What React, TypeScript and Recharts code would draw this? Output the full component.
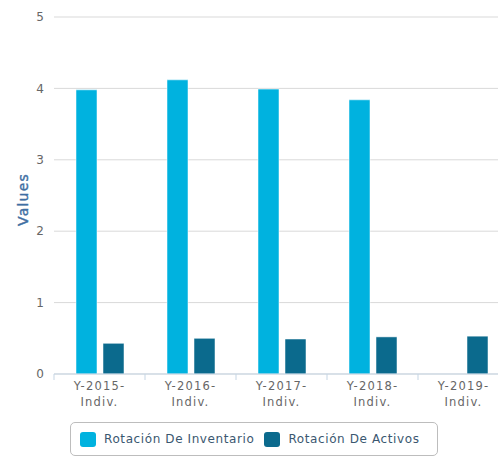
import React from "react";
import { BarChart, Bar, XAxis, YAxis, CartesianGrid, Legend } from "recharts";

const categories = ["Y-2015-Indiv.", "Y-2016-Indiv.", "Y-2017-Indiv.", "Y-2018-Indiv.", "Y-2019-Indiv."];
const inventario = [3.98, 4.12, 3.99, 3.84, null];
const activos = [0.43, 0.5, 0.49, 0.52, 0.53];
const yTicks = [0, 1, 2, 3, 4, 5];

const LIGHT = "#00B2DF";
const DARK = "#0B6A8D";
const FONT = "'DejaVu Sans', Verdana, sans-serif";
const BAND = 91;

const data = categories.map((c, i) => ({
  cat: c,
  inv: inventario[i],
  act: activos[i],
}));

function XTick(props: any) {
  const { x, y, payload } = props;
  const s = String(payload.value);
  const cut = s.indexOf("Indiv.");
  const l1 = s.slice(0, cut);
  const l2 = s.slice(cut);
  return (
    <g>
      <line x1={x - BAND / 2} x2={x - BAND / 2} y1={y - 8} y2={y - 2} stroke="#c5d5e4" />
      <text x={x} y={y + 8} textAnchor="middle" fill="#666" fontSize={11.5} letterSpacing={1.2} fontFamily={FONT}>
        {l1}
      </text>
      <text x={x} y={y + 24} textAnchor="middle" fill="#666" fontSize={11.5} letterSpacing={1.2} fontFamily={FONT}>
        {l2}
      </text>
    </g>
  );
}

function YLabel(props: any) {
  const { viewBox } = props;
  const cx = viewBox.x + 28;
  const cy = viewBox.y + viewBox.height / 2 + 4;
  return (
    <text
      x={cx}
      y={cy}
      transform={`rotate(-90, ${cx}, ${cy})`}
      textAnchor="middle"
      fill="#3f6fa3"
      stroke="#3f6fa3"
      strokeWidth={0.4}
      fontSize={14}
      letterSpacing={1.2}
      fontFamily={FONT}
    >
      Values
    </text>
  );
}

function LegendBox() {
  const items = [
    { name: "Rotación De Inventario", color: LIGHT },
    { name: "Rotación De Activos", color: DARK },
  ];
  return (
    <div
      style={{
        boxSizing: "border-box",
        height: 34,
        border: "1px solid #bdbdbd",
        borderRadius: 5,
        display: "flex",
        alignItems: "center",
        paddingLeft: 9,
        fontFamily: FONT,
        fontSize: 12,
        letterSpacing: 0.6,
        color: "#3a5770",
      }}
    >
      {items.map((it) => (
        <div key={it.name} style={{ display: "flex", alignItems: "center", marginRight: 10 }}>
          <span
            style={{
              display: "inline-block",
              width: 16,
              height: 15,
              borderRadius: 3,
              background: it.color,
              marginRight: 8,
            }}
          />
          <span>{it.name}</span>
        </div>
      ))}
    </div>
  );
}

export default function App() {
  return (
    <div style={{ position: "absolute", left: 0, top: 0, width: 498, height: 457, overflow: "hidden", background: "#fff" }}>
      <BarChart
        width={509}
        height={457}
        data={data}
        margin={{ top: 17, right: 0, bottom: 0, left: 0 }}
        barSize={21}
        barGap={6}
      >
        <CartesianGrid vertical={false} stroke="#d9d9d9" />
        <XAxis
          dataKey="cat"
          height={49}
          interval={0}
          tickLine={false}
          axisLine={{ stroke: "#c5d5e4" }}
          tick={<XTick />}
        />
        <YAxis
          width={54}
          domain={[0, 5]}
          ticks={yTicks}
          axisLine={false}
          tickLine={false}
          tickMargin={4}
          tick={{ fill: "#666", fontSize: 12, fontFamily: FONT }}
          label={<YLabel />}
        />
        <Legend
          verticalAlign="bottom"
          content={<LegendBox />}
          wrapperStyle={{ left: 70, width: 368, bottom: 1 }}
        />
        <Bar dataKey="inv" name="Rotación De Inventario" fill={LIGHT} stroke="rgba(255,255,255,0.5)" isAnimationActive={false} />
        <Bar dataKey="act" name="Rotación De Activos" fill={DARK} stroke="rgba(255,255,255,0.5)" isAnimationActive={false} />
      </BarChart>
    </div>
  );
}
